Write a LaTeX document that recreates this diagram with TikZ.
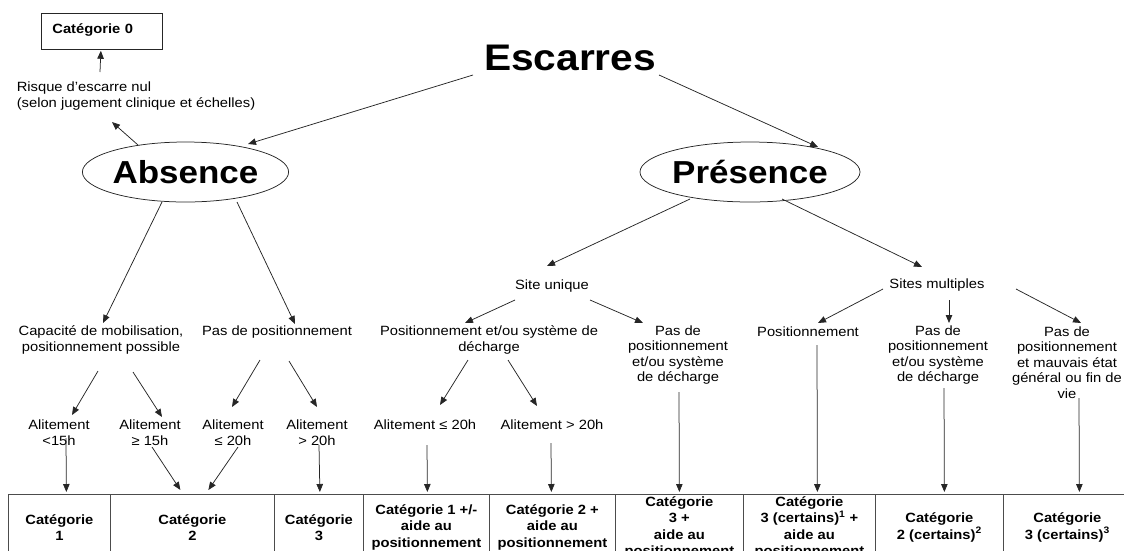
\documentclass[tikz,border=0pt]{standalone}
\usepackage{fontspec}
\setmainfont[FakeStretch=1.1]{Liberation Sans}
\usetikzlibrary{shapes,shapes.geometric,positioning,arrows.meta,calc}

\begin{document}
\begin{tikzpicture}[->, >={Triangle[length=8pt,width=6.5pt]}, x=1pt, y=-1pt,
		line width=0.75pt, draw=black!85,
		txt/.style={align=center, inner sep=1pt, font=\fontsize{13.4}{15.5}\selectfont},
		oval/.style={ellipse, draw, minimum width=187pt, minimum height=60pt, inner sep=0pt,
			font=\fontsize{31.8}{36}\selectfont\bfseries},
		cell/.style={rectangle, draw=black!70, anchor=north west, minimum height=66pt,
			inner sep=0pt, align=center, font=\fontsize{13.4}{16.3}\selectfont\bfseries}]
		\useasboundingbox (0,0) rectangle (1124,550);
		\clip (0,0) rectangle (1124,550);
		
		% top of the tree
		\node[font=\fontsize{37}{40}\selectfont\bfseries] (esc) at (570,58) {Escarres};
		\node[oval] (abs) at (185.5,172) {Absence};
		\node[oval] (pre) at (750,172) {Présence};
		\node[draw, anchor=north west, text width=99pt, align=left, inner xsep=11pt, inner ysep=4pt,
			text height=15.8pt, text depth=12.2pt, font=\fontsize{13.4}{15.5}\selectfont\bfseries]
			(cat0) at (41,13) {Catégorie 0};
		\node[txt, align=left] (risq) at (136,96) {Risque d'escarre nul\\(selon jugement clinique et échelles)};
		
		% absence
		\node[txt] (capa) at (101,340) {Capacité de mobilisation,\\positionnement possible};
		\node[txt] (paspos) at (277,332) {Pas de positionnement};
		\node[txt] (alit1) at (59,432.5) {Alitement\\<15h};
		\node[txt] (alit2) at (150,432.5) {Alitement\\≥ 15h};
		\node[txt] (alit3) at (233,432.5) {Alitement\\≤ 20h};
		\node[txt] (alit4) at (317,432.5) {Alitement\\> 20h};
		
		% presence
		\node[txt] (unique) at (552,286) {Site unique};
		\node[txt] (multi) at (937,285) {Sites multiples};
		\node[txt] (posdec) at (489,340) {Positionnement et/ou système de\\décharge};
		\node[txt] (pasdec1) at (678,355) {Pas de\\positionnement\\et/ou système\\de décharge};
		\node[txt] (alitA) at (425,425) {Alitement ≤ 20h};
		\node[txt] (alitB) at (552,425) {Alitement > 20h};
		\node[txt] (posit) at (808,332) {Positionnement};
		\node[txt] (pasdec2) at (938,355) {Pas de\\positionnement\\et/ou système\\de décharge};
		\node[txt] (mauvais) at (1067,362.5) {Pas de\\positionnement\\et mauvais état\\général ou fin de\\vie};
		
		% categories
		\node[cell, minimum width=102pt] (cell1) at (8,494) {Catégorie\\1};
		\node[cell, minimum width=164pt] (cell2) at (110,494) {Catégorie\\2};
		\node[cell, minimum width=89pt] (cell3) at (274,494) {Catégorie\\3};
		\node[cell, minimum width=126pt] (cell4) at (363,494) {Catégorie 1 +/-\\aide au\\positionnement};
		\node[cell, minimum width=126pt] (cell5) at (489,494) {Catégorie 2 +\\aide au\\positionnement};
		\node[cell, minimum width=128pt] (cell6) at (615,494) {Catégorie\\3 +\\aide au\\positionnement};
		\node[cell, minimum width=132pt] (cell7) at (743,494) {Catégorie\\3 (certains)\textsuperscript{1} +\\aide au\\positionnement};
		\node[cell, minimum width=128pt] (cell8) at (875,494) {Catégorie\\2 (certains)\textsuperscript{2}};
		\node[cell, minimum width=128pt] (cell9) at (1003,494) {Catégorie\\3 (certains)\textsuperscript{3}};
		
		\draw ($(esc)+(-97,17)$) -- ($(abs)+(62.5,-28)$);
		\draw ($(esc)+(89,17)$) -- ($(pre)+(68,-25)$);
		\draw ($(abs)+(-47.5,-27)$) -- ($(risq)+(-24,26)$);
		\draw ($(risq)+(-36,-24)$) -- ($(cat0.south)+(-1,1)$);
		
		\draw ($(abs)+(-23.5,30)$) -- ($(capa)+(2,-17)$);
		\draw ($(abs)+(51.5,30)$) -- ($(paspos)+(18,-8)$);
		\draw ($(capa)+(-3,31)$) -- ($(alit1)+(13,-17.5)$);
		\draw ($(capa)+(32,32)$) -- ($(alit2)+(12,-15.5)$);
		\draw ($(paspos)+(-17,28)$) -- ($(alit3)+(-1,-25.5)$);
		\draw ($(paspos)+(12,29)$) -- ($(alit4)+(0,-25.5)$);
		\draw ($(alit1)+(7,5.5)$) -- ($(cell1.north)+(7,-2)$);
		\draw ($(alit2)+(2,14.5)$) -- ($(cell2.north)+(-12,-4)$);
		\draw ($(alit3)+(5,14.5)$) -- ($(cell2.north)+(16,-4)$);
		\draw ($(alit4)+(2,12.5)$) -- ($(cell3.north)+(1,-2)$);
		
		\draw ($(pre)+(-60,27)$) -- ($(unique)+(-5,-20)$);
		\draw ($(pre)+(32,27)$) -- ($(multi)+(-15,-18)$);
		\draw ($(unique)+(-37,14)$) -- ($(posdec)+(-24,-17)$);
		\draw ($(unique)+(38,14)$) -- ($(pasdec1)+(-35,-32)$);
		\draw ($(posdec)+(-21,20)$) -- ($(alitA)+(15,-20)$);
		\draw ($(posdec)+(19,20)$) -- ($(alitB)+(-15,-19)$);
		\draw ($(alitA)+(2,20)$) -- ($(cell4.north)+(1,-2)$);
		\draw ($(alitB)+(-1,18)$) -- ($(cell5.north)+(-1,-2)$);
		\draw ($(pasdec1)+(1,37)$) -- ($(cell6.north)+(0,-2)$);
		\draw ($(multi)+(-54,4)$) -- ($(posit)+(10,-9)$);
		\draw ($(multi)+(12,15)$) -- ($(pasdec2)+(11,-32)$);
		\draw ($(multi)+(79,4)$) -- ($(mauvais)+(14,-39.5)$);
		\draw ($(posit)+(9,13)$) -- ($(cell7.north)+(8,-2)$);
		\draw ($(pasdec2)+(6,33)$) -- ($(cell8.north)+(5,-2)$);
		\draw ($(mauvais)+(12,35.5)$) -- ($(cell9.north)+(12,-2)$);
		
	\end{tikzpicture}
\end{document}
